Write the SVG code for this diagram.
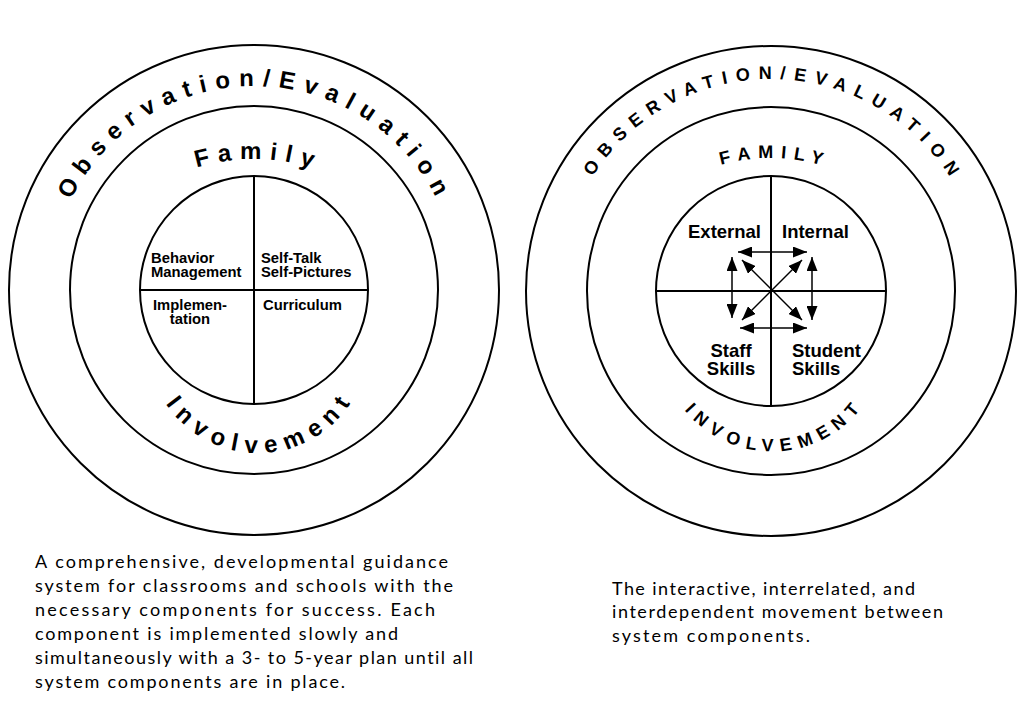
<svg xmlns="http://www.w3.org/2000/svg" xmlns:xlink="http://www.w3.org/1999/xlink" width="1024" height="715" viewBox="0 0 1024 715">
<style>
.ring{fill:none;stroke:#000;stroke-width:2}
.div{stroke:#000;stroke-width:2}
.arc{font-family:"Liberation Sans",Arial,sans-serif;font-weight:bold;fill:#000}
.lbl{font-family:"Liberation Sans",Arial,sans-serif;font-weight:bold;fill:#000}
.cap{font-family:Lato,"Liberation Sans",sans-serif;font-size:18px;fill:#000;font-variant-ligatures:none}
.arr{stroke:#000;stroke-width:1.5;fill:none;marker-start:url(#ah);marker-end:url(#ah)}
</style>
<defs>
<marker id="ah" viewBox="0 0 14 11" refX="14" refY="5.5" markerWidth="14" markerHeight="11" markerUnits="userSpaceOnUse" orient="auto-start-reverse"><path d="M0,0 L14,5.5 L0,11 z" fill="#000"/></marker>
<path id="pLO" d="M50,290 A204,204 0 0 1 458,290"/>
<path id="pLF" d="M61,352 A193,193 0 0 1 447,352"/>
<path id="pLI" d="M147,342 A111,111 0 0 0 369,342"/>
<path id="pRO" d="M559,291 A212,212 0 0 1 983,291"/>
<path id="pRF" d="M587,342 A184,184 0 0 1 955,342"/>
<path id="pRI" d="M658.5,338 A113.5,113.5 0 0 0 885.5,338"/>
</defs>
<rect width="1024" height="715" fill="#fff"/>

<g id="left-diagram">
<g id="left-observation">
<circle class="ring" cx="254" cy="290" r="245"/>
<text class="arc" font-size="24" letter-spacing="8.7"><textPath href="#pLO" xlink:href="#pLO" startOffset="323" text-anchor="middle">Observation/Evaluation</textPath></text>
</g>
<g id="left-family">
<circle class="ring" cx="254" cy="290" r="184"/>
<text class="arc" font-size="24" letter-spacing="8.2"><textPath href="#pLF" xlink:href="#pLF" startOffset="307.3" text-anchor="middle">Family</textPath></text>
<text class="arc" font-size="24" letter-spacing="7.8"><textPath href="#pLI" xlink:href="#pLI" startOffset="178.3" text-anchor="middle">Involvement</textPath></text>
</g>
<g id="left-core">
<circle class="ring" cx="254" cy="290" r="114"/>
<line class="div" x1="254" y1="176" x2="254" y2="404"/>
<line class="div" x1="140" y1="290" x2="368" y2="290"/>
</g>
<g id="left-behavior">
<text class="lbl" font-size="14.8" x="151" y="263">Behavior</text>
<text class="lbl" font-size="14.8" x="151" y="277">Management</text>
</g>
<g id="left-selftalk">
<text class="lbl" font-size="14.8" x="261" y="263">Self-Talk</text>
<text class="lbl" font-size="14.8" x="261" y="277">Self-Pictures</text>
</g>
<g id="left-implementation">
<text class="lbl" font-size="14.8" x="190" y="310" text-anchor="middle">Implemen-</text>
<text class="lbl" font-size="14.8" x="190" y="324" text-anchor="middle">tation</text>
</g>
<g id="left-curriculum">
<text class="lbl" font-size="14.8" x="263" y="310">Curriculum</text>
</g>
</g>

<g id="right-diagram">
<g id="right-observation">
<circle class="ring" cx="771" cy="291" r="245"/>
<text class="arc" font-size="18" letter-spacing="8.4"><textPath href="#pRO" xlink:href="#pRO" startOffset="337.2" text-anchor="middle">OBSERVATION/EVALUATION</textPath></text>
</g>
<g id="right-family">
<circle class="ring" cx="771" cy="291" r="184"/>
<text class="arc" font-size="18" letter-spacing="7.5"><textPath href="#pRF" xlink:href="#pRF" startOffset="292.8" text-anchor="middle">FAMILY</textPath></text>
<text class="arc" font-size="18" letter-spacing="7.2"><textPath href="#pRI" xlink:href="#pRI" startOffset="181.9" text-anchor="middle">INVOLVEMENT</textPath></text>
</g>
<g id="right-core">
<circle class="ring" cx="771" cy="291" r="115"/>
<line class="div" x1="771" y1="176" x2="771" y2="406"/>
<line class="div" x1="656" y1="291" x2="886" y2="291"/>
</g>
<g id="right-external"><text class="lbl" font-size="18.5" x="688" y="238">External</text></g>
<g id="right-internal"><text class="lbl" font-size="18.5" x="782" y="238">Internal</text></g>
<g id="right-staff">
<text class="lbl" font-size="18.5" x="731" y="357" text-anchor="middle">Staff</text>
<text class="lbl" font-size="18.5" x="731" y="375" text-anchor="middle">Skills</text>
</g>
<g id="right-student">
<text class="lbl" font-size="18.5" x="792" y="357">Student</text>
<text class="lbl" font-size="18.5" x="792" y="375">Skills</text>
</g>
</g>

<g id="connectors">
<line class="arr" x1="738" y1="252" x2="807" y2="252"/>
<line class="arr" x1="740" y1="328" x2="807" y2="328"/>
<line class="arr" x1="732" y1="257" x2="732" y2="318"/>
<line class="arr" x1="812" y1="257" x2="812" y2="320"/>
<line class="arr" x1="742" y1="260" x2="802" y2="320"/>
<line class="arr" x1="802" y1="260" x2="742" y2="320"/>
</g>

<g id="left-caption">
<text class="cap" x="35" y="568" textLength="413" lengthAdjust="spacing">A comprehensive, developmental guidance</text>
<text class="cap" x="35" y="592" textLength="418" lengthAdjust="spacing">system for classrooms and schools with the</text>
<text class="cap" x="35" y="616" textLength="400" lengthAdjust="spacing">necessary components for success. Each</text>
<text class="cap" x="35" y="640" textLength="363" lengthAdjust="spacing">component is implemented slowly and</text>
<text class="cap" x="35" y="664" textLength="438" lengthAdjust="spacing">simultaneously with a 3- to 5-year plan until all</text>
<text class="cap" x="35" y="688" textLength="310" lengthAdjust="spacing">system components are in place.</text>
</g>
<g id="right-caption">
<text class="cap" x="612" y="595" textLength="303" lengthAdjust="spacing">The interactive, interrelated, and</text>
<text class="cap" x="612" y="618" textLength="331" lengthAdjust="spacing">interdependent movement between</text>
<text class="cap" x="612" y="642" textLength="198" lengthAdjust="spacing">system components.</text>
</g>
</svg>
